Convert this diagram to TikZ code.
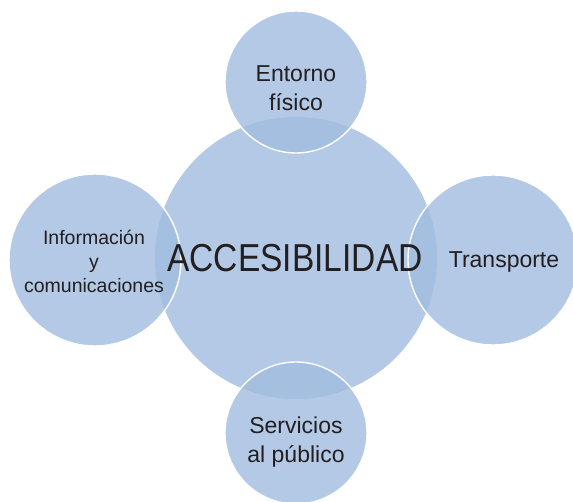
\documentclass[tikz,border=0pt]{standalone}
\usepackage{fontspec}
\setmainfont{Liberation Sans}
\newfontfamily\bigfont{Liberation Sans}[FakeStretch=0.86]
\definecolor{blobfill}{RGB}{162,189,224}
\definecolor{txt}{RGB}{35,31,32}
\tikzset{
  blob/.style={circle, inner sep=0pt, fill=blobfill, fill opacity=0.82},
  sat/.style={blob, draw=white, line width=1.4pt},
  lbl/.style={text=txt, align=center, inner sep=0pt, font={\fontsize{23}{28.5}\selectfont}},
}
\begin{document}
\begin{tikzpicture}[x=1pt,y=-1pt]
\useasboundingbox (0,0) rectangle (573,502);
\clip (0,0) rectangle (573,502);
\node[blob, minimum size=282pt] (c) at (296,258) {};
\node[sat, minimum size=142pt] (t) at (296,82) {};
\node[sat, minimum size=170pt] (r) at (493,260) {};
\node[sat, minimum size=142pt] (b) at (296,433) {};
\node[sat, minimum size=172pt] (l) at (95,260) {};
\node[text=txt, inner sep=0pt, anchor=base, font={\bigfont\fontsize{39}{39}\selectfont}] (ct) at (295,272) {ACCESIBILIDAD};
\node[lbl, anchor=center] (tt) at (296,88) {Entorno\\físico};
\node[lbl, anchor=base] (rt) at (504,268) {Transporte};
\node[lbl, anchor=center] (bt) at (296,442) {Servicios\\al público};
\node[lbl, anchor=center, font={\fontsize{19.5}{24}\selectfont}] (lt) at (94,261) {Información\\y\\comunicaciones};
\end{tikzpicture}
\end{document}
